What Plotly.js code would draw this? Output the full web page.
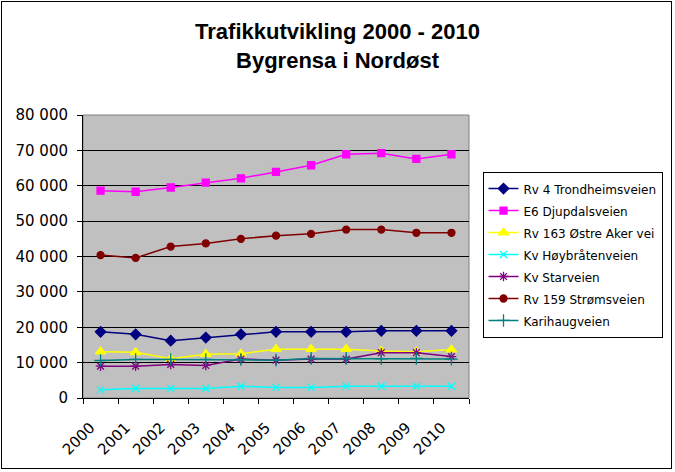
<!DOCTYPE html>
<html>
<head>
<meta charset="utf-8">
<script src="https://cdn.plot.ly/plotly-3.0.1.min.js"></script>
<style>
html,body{margin:0;padding:0;background:#fff;}
#wrap{position:relative;width:675px;height:472px;}
#chart{width:675px;height:472px;}
#frame{position:absolute;left:1px;top:1px;width:669px;height:466px;border:1px solid #000;pointer-events:none;}
</style>
</head>
<body>
<div id="wrap"><div id="chart"></div><div id="frame"></div></div>
<script>
const years = ["2000","2001","2002","2003","2004","2005","2006","2007","2008","2009","2010"];
const rv4 = [18700,18000,16200,17100,18000,18700,18700,18700,19000,19000,19000];
const e6 = [58600,58300,59500,60900,62100,63900,65800,68900,69200,67600,68900];
const rv163 = [13100,12900,11100,12400,12500,13800,13800,13800,13300,13100,13700];
const hoybraten = [2300,2700,2700,2700,3300,3000,3000,3300,3300,3300,3300];
const starveien = [9000,9000,9500,9200,11000,10700,11000,11000,12800,12800,11700];
const rv159 = [40400,39600,42800,43700,45000,45900,46400,47600,47600,46700,46700];
const karihaug = [10600,10900,10900,10900,10900,10700,11200,11200,11100,11200,11000];

const names = ["Rv 4 Trondheimsveien","E6 Djupdalsveien","Rv 163 Østre Aker vei","Kv Høybråtenveien","Kv Starveien","Rv 159 Strømsveien","Karihaugveien"];
const series = [rv4,e6,rv163,hoybraten,starveien,rv159,karihaug];
const colors = ["#000080","#FF00FF","#FFFF00","#00FFFF","#800080","#800000","#008080"];
const symbols = ["diamond","square","triangle-up","x-thin-open","asterisk-open","circle","cross-thin-open"];
const sizes = [8,7,9,7,8,7,9];

const traces = series.map((s,i)=>({
  type:"scatter", mode:"lines+markers", x:years, y:s,
  name:'<span style="font-size:12px">'+names[i]+'</span>',
  line:{color:colors[i], width:1.5},
  marker:{symbol:symbols[i], size:sizes[i], color:colors[i], line:{color:colors[i], width:1.3}}
}));

const layout = {
  width:675, height:472,
  paper_bgcolor:"#fff", plot_bgcolor:"#C0C0C0",
  separators:", ",
  margin:{l:83, r:200, t:115, b:74},
  font:{family:"DejaVu Sans, sans-serif", color:"#000"},
  title:{text:"<b>Trafikkutvikling 2000 - 2010<br>Bygrensa i Nordøst</b>", font:{family:"Liberation Sans, Arial, sans-serif", size:22, color:"#000"}, x:0.5, xanchor:"center", y:0.917, yanchor:"middle"},
  xaxis:{type:"category", tickangle:-45, ticks:"outside", tickson:"boundaries", ticklen:5, tickcolor:"#000",
    showline:true, linecolor:"#000", linewidth:1, showgrid:false, tickfont:{size:15}, range:[-0.5,10.5],
    ticklabelstandoff:14, ticklabelshift:-10, fixedrange:true},
  yaxis:{range:[0,80000], dtick:10000, tickformat:",d", ticks:"outside", ticklen:5, tickcolor:"#000",
    showline:true, linecolor:"#000", linewidth:1, showgrid:true, gridcolor:"#000", gridwidth:1,
    zeroline:false, tickfont:{size:15}, ticklabelstandoff:6, fixedrange:true},
  shapes:[{type:"rect", xref:"paper", yref:"paper", x0:0, x1:1, y0:0, y1:1, line:{color:"#808080", width:1}, layer:"below"}],
  legend:{x:1.035, y:0.8, xanchor:"left", yanchor:"top", bgcolor:"#fff", bordercolor:"#000", borderwidth:1,
    font:{size:14.6}, itemwidth:30, tracegroupgap:0},
  showlegend:true
};
Plotly.newPlot("chart", traces, layout, {displayModeBar:false, staticPlot:true});
</script>
</body>
</html>
